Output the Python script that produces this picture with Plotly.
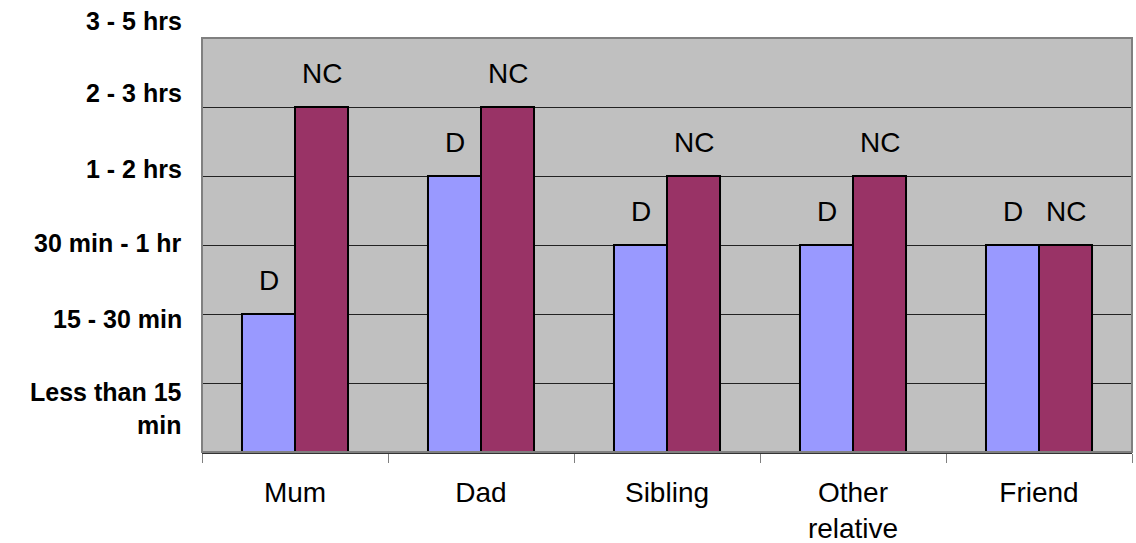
import plotly.graph_objects as go

categories = ["Mum", "Dad", "Sibling", "Other<br>relative", "Friend"]
d_values = [2, 4, 3, 3, 3]
nc_values = [5, 5, 4, 4, 3]
series_names = ["D", "NC"]
y_tick_values = [1, 2, 3, 4, 5, 6]
y_tick_labels = ["Less than 15<br>min", "15 - 30 min", "30 min - 1 hr", "1 - 2 hrs", "2 - 3 hrs", "3 - 5 hrs"]
# visual offset (px) of each y label relative to its gridline, as in the reference
y_label_shift = [-25, -5, 2, 7, 14, 17]

FONT = "Liberation Sans, Arial, sans-serif"
colors = ["#9999FF", "#993366"]

fig = go.Figure()
for name, vals, col in zip(series_names, [d_values, nc_values], colors):
    fig.add_trace(go.Bar(
        x=categories, y=vals, name=name,
        marker=dict(color=col, line=dict(color="black", width=2)),
        hoverinfo="x+y",
    ))

annotations = []
bar_px = 53
for i, (name, vals) in enumerate(zip(series_names, [d_values, nc_values])):
    xs = -bar_px / 2 if i == 0 else bar_px / 2
    for c, v in zip(categories, vals):
        annotations.append(dict(
            x=c, y=v, xref="x", yref="y", text=name, showarrow=False,
            xshift=xs, yshift=34, yanchor="middle", xanchor="center",
            font=dict(family=FONT, size=28, color="black"),
        ))

for v, lab, sh in zip(y_tick_values, y_tick_labels, y_label_shift):
    annotations.append(dict(
        x=0, y=v, xref="paper", yref="y", text="<b>" + lab.replace("<br>", "</b><br><b>") + "</b>",
        showarrow=False, xanchor="right", yanchor="middle", align="right",
        xshift=-18, yshift=sh,
        font=dict(family=FONT, size=25, color="black"),
    ))

fig.update_layout(
    width=1136, height=543,
    margin=dict(l=202, r=4, t=38, b=91, autoexpand=False),
    paper_bgcolor="white", plot_bgcolor="#C0C0C0",
    barmode="group", bargap=0.43, bargroupgap=0,
    showlegend=False,
    annotations=annotations,
    shapes=[dict(type="rect", xref="paper", yref="paper", x0=0, y0=0, x1=1, y1=1,
                 line=dict(color="#808080", width=2), fillcolor="rgba(0,0,0,0)", layer="above")],
)
fig.update_xaxes(
    type="category", tickson="boundaries", ticks="outside", ticklen=9, tickcolor="#808080", tickwidth=1,
    showline=True, linecolor="#333333", linewidth=2, automargin=False,
    tickfont=dict(family=FONT, size=28, color="black"), showgrid=False,
    ticklabelstandoff=14,
)
fig.update_yaxes(
    range=[0, 6], tickvals=y_tick_values, showticklabels=False, automargin=False,
    showgrid=True, gridcolor="#222222", gridwidth=1, zeroline=False,
)

fig.write_html("out.html", config={"displayModeBar": False},
               post_script="document.body.style.margin='0';document.body.style.overflow='hidden';")
